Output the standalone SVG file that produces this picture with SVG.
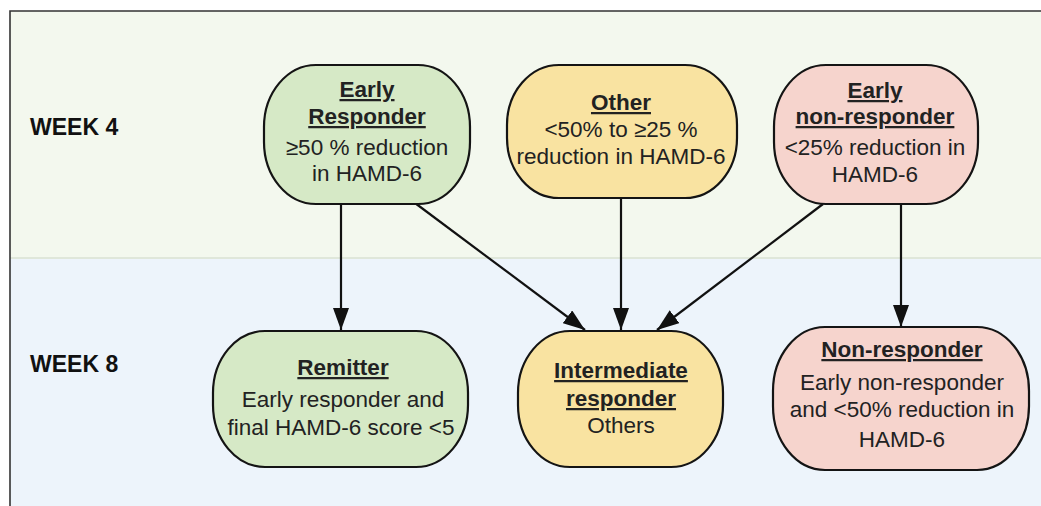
<svg xmlns="http://www.w3.org/2000/svg" width="1041" height="506" viewBox="0 0 1041 506">
  <defs>
    <style>
      .band-label { font-family: "Liberation Sans", Arial, sans-serif; font-weight: bold; font-size: 23px; fill: #111; }
      .node rect { stroke: #141414; stroke-width: 2.2; }
      .node text { font-family: "Liberation Sans", Arial, sans-serif; font-size: 22.5px; fill: #222; text-anchor: middle; }
      .node .title { font-weight: bold; text-decoration: underline; }
      .green { fill: #d6e9c6; }
      .yellow { fill: #f9e3a1; }
      .pink { fill: #f6d4cd; }
      .edge { stroke: #111; stroke-width: 2.2; fill: none; marker-end: url(#head); }
    </style>
    <marker id="head" viewBox="0 0 22 16" refX="22" refY="8" markerWidth="22" markerHeight="16" markerUnits="userSpaceOnUse" orient="auto">
      <path d="M0,0 L22,8 L0,16 Z" fill="#111"/>
    </marker>
  </defs>

  <!-- swimlane bands -->
  <g id="lanes">
    <rect x="10" y="11" width="1040" height="247" fill="#f3f8ee"/>
    <rect x="10" y="258" width="1040" height="260" fill="#edf4fb"/>
    <line x1="10" y1="258" x2="1041" y2="258" stroke="#dfe7da" stroke-width="2"/>
    <path d="M1041,11 H10 V506" fill="none" stroke="#333" stroke-width="1.6"/>
    <text class="band-label" x="30" y="135">WEEK 4</text>
    <text class="band-label" x="30" y="372">WEEK 8</text>
  </g>

  <!-- connectors -->
  <g id="connectors">
    <line class="edge" x1="341" y1="204" x2="341" y2="330"/>
    <line class="edge" x1="415" y1="203" x2="585" y2="330"/>
    <line class="edge" x1="621" y1="198" x2="621" y2="330"/>
    <line class="edge" x1="823" y1="204" x2="657" y2="330"/>
    <line class="edge" x1="901" y1="204" x2="901" y2="327"/>
  </g>

  <!-- week 4 nodes -->
  <g id="early-responder" class="node">
    <rect class="green" x="264" y="65" width="206" height="139" rx="52" ry="62"/>
    <text class="title" x="367" y="97">Early</text>
    <text class="title" x="367" y="124">Responder</text>
    <text x="367" y="155">≥50 % reduction</text>
    <text x="367" y="181">in HAMD-6</text>
  </g>

  <g id="other" class="node">
    <rect class="yellow" x="507" y="65" width="230" height="133" rx="52" ry="60"/>
    <text class="title" x="621" y="110">Other</text>
    <text x="621" y="137">&lt;50% to ≥25 %</text>
    <text x="621" y="164">reduction in HAMD-6</text>
  </g>

  <g id="early-non-responder" class="node">
    <rect class="pink" x="774" y="65" width="204" height="139" rx="52" ry="62"/>
    <text class="title" x="875" y="98">Early</text>
    <text class="title" x="875" y="124">non-responder</text>
    <text x="875" y="155">&lt;25% reduction in</text>
    <text x="875" y="182">HAMD-6</text>
  </g>

  <!-- week 8 nodes -->
  <g id="remitter" class="node">
    <rect class="green" x="213" y="331" width="255" height="136" rx="52" ry="62"/>
    <text class="title" x="343" y="375">Remitter</text>
    <text x="343" y="407">Early responder and</text>
    <text x="341" y="435">final HAMD-6 score &lt;5</text>
  </g>

  <g id="intermediate-responder" class="node">
    <rect class="yellow" x="518" y="331" width="205" height="136" rx="52" ry="62"/>
    <text class="title" x="621" y="378">Intermediate</text>
    <text class="title" x="621" y="406">responder</text>
    <text x="621" y="433">Others</text>
  </g>

  <g id="non-responder" class="node">
    <rect class="pink" x="773" y="327" width="256" height="143" rx="52" ry="64"/>
    <text class="title" x="902" y="357">Non-responder</text>
    <text x="902" y="390">Early non-responder</text>
    <text x="902" y="417">and &lt;50% reduction in</text>
    <text x="902" y="447">HAMD-6</text>
  </g>
</svg>
